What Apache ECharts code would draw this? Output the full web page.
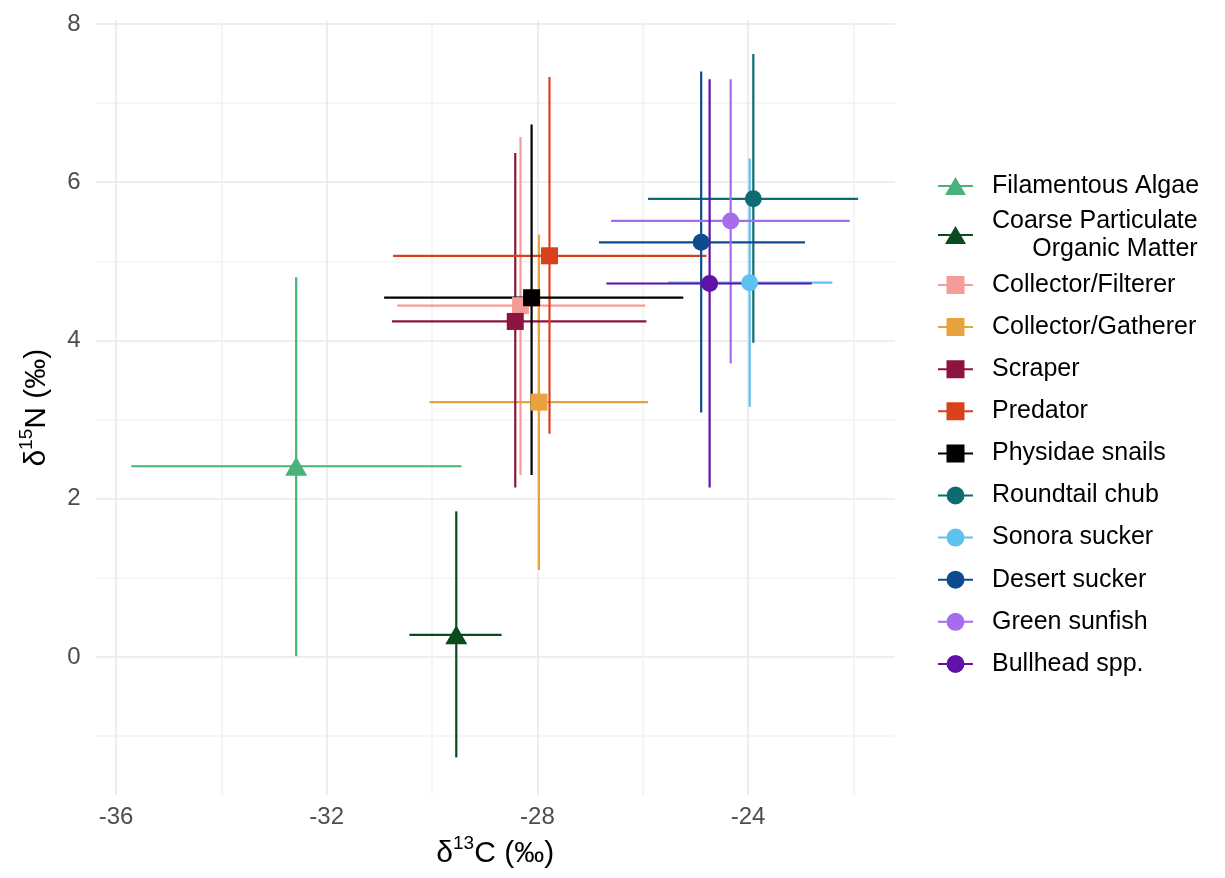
<!DOCTYPE html>
<html>
<head>
<meta charset="utf-8">
<script src="https://cdn.jsdelivr.net/npm/echarts@6/dist/echarts.min.js"></script>
<style>
  html, body { margin: 0; background: #fff; }
  #chart { width: 1225px; height: 878px; }
</style>
</head>
<body>
<div id="chart"></div>
<script>
// isotope means with error ranges
const groupNames = [
  'Filamentous Algae', 'Coarse Particulate Organic Matter', 'Collector/Filterer',
  'Collector/Gatherer', 'Scraper', 'Predator', 'Physidae snails', 'Roundtail chub',
  'Sonora sucker', 'Desert sucker', 'Green sunfish', 'Bullhead spp.'
]
const carbonMean = [-32.58, -29.54, -28.32, -27.97, -28.42, -27.77, -28.11, -23.90, -23.97, -24.89, -24.33, -24.73]
const nitrogenMean = [2.41, 0.28, 4.44, 3.22, 4.24, 5.07, 4.54, 5.79, 4.73, 5.24, 5.51, 4.72]
const carbonLow = [-35.71, -30.43, -30.66, -30.05, -30.76, -30.74, -30.91, -25.90, -25.52, -26.83, -26.60, -26.69]
const carbonHigh = [-29.44, -28.68, -25.95, -25.90, -25.93, -24.79, -25.23, -21.91, -22.40, -22.92, -22.07, -22.79]
const nitrogenLow = [0.01, -1.27, 2.30, 1.10, 2.14, 2.82, 2.30, 3.97, 3.16, 3.09, 3.71, 2.14]
const nitrogenHigh = [4.80, 1.84, 6.57, 5.34, 6.37, 7.33, 6.73, 7.62, 6.30, 7.40, 7.30, 7.30]

const xGridValues = [-36, -34, -32, -30, -28, -26, -24, -22]
const xLabelValues = [-36, -32, -28, -24]
const yGridValues = [-1, 0, 1, 2, 3, 4, 5, 6, 7, 8]
const yLabelValues = [0, 2, 4, 6, 8]

const colors = ['#48B27B', '#0A4A1F', '#F69C98', '#E9A23E', '#8C1441', '#D9411C',
  '#000000', '#0D6B72', '#5EC1F0', '#0D4A8E', '#A66CEE', '#5F11A8']
const shapes = ['triangle', 'triangle', 'rect', 'rect', 'rect', 'rect', 'rect',
  'circle', 'circle', 'circle', 'circle', 'circle']

const font = "'Liberation Sans', Arial, sans-serif"
const cpom = 'Coarse Particulate Organic Matter'

const bar = 'M0,8 L35,8 L35,10 L0,10 Z '
const legendIcons = {
  triangle: 'path://' + bar + 'M17.5,0 L28,18 L7,18 Z',
  rect: 'path://' + bar + 'M8.5,0 L26.5,0 L26.5,18 L8.5,18 Z',
  circle: 'path://' + bar + 'M26.5,9 A9,9 0 1 1 8.5,9 A9,9 0 1 1 26.5,9 Z'
}

const chart = echarts.init(document.getElementById('chart'))

const errorSeries = groupNames.map((name, i) => ({
  name,
  type: 'custom',
  z: 2,
  itemStyle: { color: colors[i] },
  encode: { x: [0, 2, 3], y: [1, 4, 5] },
  data: [[carbonMean[i], nitrogenMean[i], carbonLow[i], carbonHigh[i], nitrogenLow[i], nitrogenHigh[i]]],
  renderItem: (params, api) => {
    const left = api.coord([api.value(2), api.value(1)])
    const right = api.coord([api.value(3), api.value(1)])
    const low = api.coord([api.value(0), api.value(4)])
    const high = api.coord([api.value(0), api.value(5)])
    const style = { stroke: colors[i], lineWidth: 2.2, fill: null }
    return {
      type: 'group',
      children: [
        { type: 'line', shape: { x1: low[0], y1: low[1], x2: high[0], y2: high[1] }, style },
        { type: 'line', shape: { x1: left[0], y1: left[1], x2: right[0], y2: right[1] }, style }
      ]
    }
  }
}))

const pointSeries = groupNames.map((name, i) => ({
  name,
  type: 'scatter',
  z: 3,
  symbol: shapes[i],
  symbolSize: shapes[i] === 'triangle' ? [22, 19] : 17,
  itemStyle: { color: colors[i], opacity: 1 },
  data: [[carbonMean[i], nitrogenMean[i]]]
}))

const legendText = {
  fontFamily: font,
  fontSize: 25,
  color: '#000',
  lineHeight: 28,
  padding: [0, 0, 0, 14],
  rich: {
    a: { fontFamily: font, fontSize: 25, color: '#000', lineHeight: 28 },
    b: { fontFamily: font, fontSize: 25, color: '#000', lineHeight: 28, align: 'right' }
  }
}
const legendItem = name => ({ name, icon: legendIcons[shapes[groupNames.indexOf(name)]] })
const legendBase = {
  orient: 'vertical',
  left: 938,
  padding: 0,
  itemWidth: 35,
  itemHeight: 18,
  textStyle: legendText,
  formatter: name => name === cpom ? '{a|Coarse Particulate}\n{b|Organic Matter}' : name
}

const axisName = (main, sup, rest) => `{m|${main}}{s|${sup}}{m|${rest}}`
const nameRich = {
  m: { fontFamily: font, fontSize: 30, color: '#000', lineHeight: 36 },
  s: { fontFamily: font, fontSize: 19, color: '#000', lineHeight: 19, padding: [0, 0, 20, 0] }
}

chart.setOption({
  animation: false,
  backgroundColor: '#fff',
  grid: { left: 95.5, right: 330, top: 20.4, bottom: 83, containLabel: false },
  xAxis: {
    type: 'value',
    min: -36.39,
    max: -21.21,
    name: axisName('δ', '13', 'C (‰)'),
    nameLocation: 'middle',
    nameGap: 40,
    nameTextStyle: { rich: nameRich },
    axisLine: { show: false },
    axisTick: { show: false, customValues: xGridValues },
    axisLabel: {
      customValues: xLabelValues,
      fontFamily: font, fontSize: 24, color: '#4D4D4D', margin: 10
    },
    splitLine: { show: true, lineStyle: { color: ['#E9E9E9', '#F3F3F3'], width: 1.6 } }
  },
  yAxis: {
    type: 'value',
    min: -1.745,
    max: 8.045,
    name: axisName('δ', '15', 'N (‰)'),
    nameLocation: 'middle',
    nameGap: 38,
    nameTextStyle: { rich: nameRich },
    axisLine: { show: false },
    axisTick: { show: false, customValues: yGridValues },
    axisLabel: {
      customValues: yLabelValues,
      fontFamily: font, fontSize: 24, color: '#4D4D4D', margin: 15
    },
    splitLine: { show: true, lineStyle: { color: ['#F3F3F3', '#E9E9E9'], width: 1.6 } }
  },
  legend: [
    Object.assign({}, legendBase, { top: 172, itemGap: 7, data: groupNames.slice(0, 2).map(legendItem) }),
    Object.assign({}, legendBase, { top: 271, itemGap: 14.1, data: groupNames.slice(2).map(legendItem) })
  ],
  series: errorSeries.concat(pointSeries)
})

window.addEventListener('resize', () => chart.resize())
</script>
</body>
</html>
